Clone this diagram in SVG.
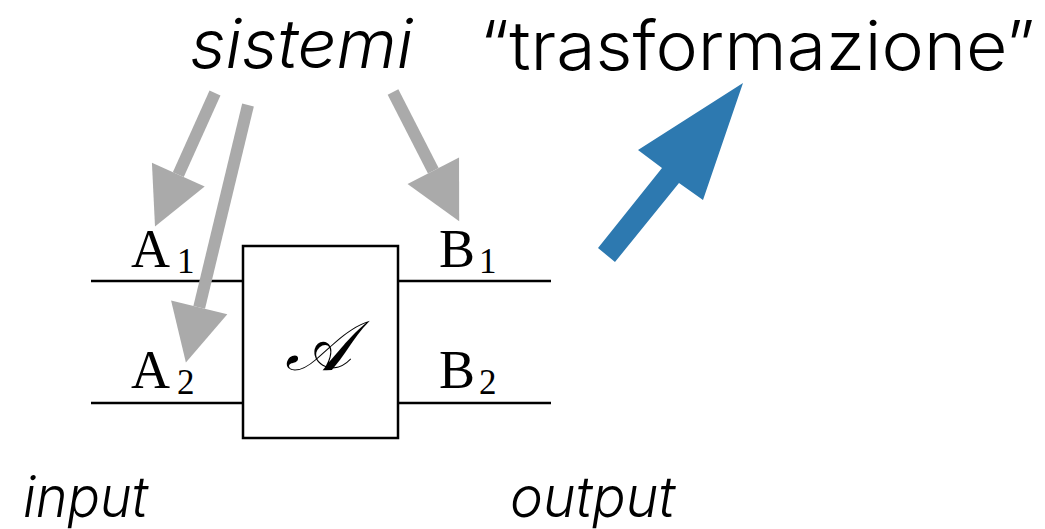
<svg xmlns="http://www.w3.org/2000/svg" width="1045" height="529" viewBox="0 0 1045 529">
<style>
.title{font-family:Inter,Roboto,"Liberation Sans",sans-serif;font-weight:300;fill:#000}
.it{font-style:italic}
.math{font-family:"Liberation Serif","DejaVu Serif",serif;fill:#000}
.wire{stroke:#000;stroke-width:2.5;fill:none}
.conn{stroke:#aaaaaa;stroke-width:12;fill:none;marker-end:url(#gh)}
</style>
<defs>
<marker id="gh" markerUnits="userSpaceOnUse" markerWidth="60" markerHeight="60" refX="0" refY="0" viewBox="0 -28 54 56" orient="auto" overflow="visible">
<path d="M0,-27 L53,0 L0,27 z" fill="#aaaaaa"/>
</marker>
</defs>
<rect width="1045" height="529" fill="#fff"/>
<g id="labels">
<text class="title it" x="190" y="68" font-size="68" textLength="223" lengthAdjust="spacingAndGlyphs">sistemi</text>
<text class="title" x="480" y="70" font-size="68" textLength="555" lengthAdjust="spacingAndGlyphs">“trasformazione”</text>
<text class="title it" x="23" y="517" font-size="56" textLength="125" lengthAdjust="spacingAndGlyphs">input</text>
<text class="title it" x="510" y="517" font-size="56" textLength="165" lengthAdjust="spacingAndGlyphs">output</text>
</g>
<g id="wires">
<line class="wire" x1="91" y1="281" x2="243" y2="281"/>
<line class="wire" x1="91" y1="403" x2="243" y2="403"/>
<line class="wire" x1="398" y1="281" x2="551" y2="281"/>
<line class="wire" x1="398" y1="403" x2="551" y2="403"/>
</g>
<g id="box">
<rect class="wire" x="243" y="246" width="155" height="192"/>
<text class="math" x="318" y="370" font-size="70" text-anchor="middle" font-style="italic">𝒜</text>
</g>
<g id="A1"><text class="math" x="131" y="267" font-size="54">A<tspan font-size="35" x="177" y="273">1</tspan></text></g>
<g id="A2"><text class="math" x="131" y="388" font-size="54">A<tspan font-size="35" x="177" y="394">2</tspan></text></g>
<g id="B1"><text class="math" x="439" y="267" font-size="54">B<tspan font-size="35" x="479" y="273">1</tspan></text></g>
<g id="B2"><text class="math" x="439" y="388" font-size="54">B<tspan font-size="35" x="479" y="394">2</tspan></text></g>
<g id="connectors">
<line class="conn" x1="215" y1="93" x2="178.3" y2="174.6"/>
<line class="conn" x1="248" y1="105" x2="199.2" y2="307.4"/>
<line class="conn" x1="393" y1="92" x2="433.3" y2="170.7"/>
</g>
<g id="blue-arrow">
<polygon points="743,83 703,200 679,183 615,262 598,248 662,168 638,150" fill="#2d79b0"/>
</g>
</svg>
